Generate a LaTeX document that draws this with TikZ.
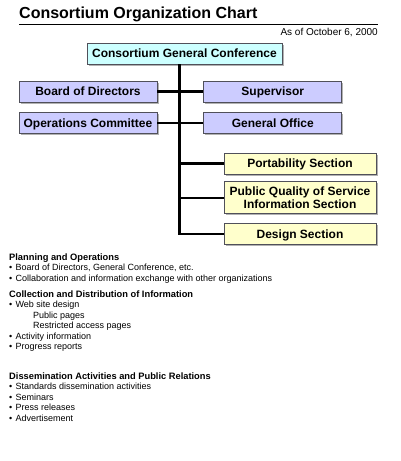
\documentclass[tikz,border=0pt]{standalone}
\usepackage{fontspec}
\setmainfont{Liberation Sans}
\usepackage{tikz}
\usetikzlibrary{positioning, shadows}
\definecolor{confcyan}{RGB}{204,255,255}
\definecolor{boardlav}{RGB}{204,204,255}
\definecolor{sectyellow}{RGB}{255,255,204}
\definecolor{edgegray}{RGB}{80,80,90}
\tikzset{
  unit/.style={rectangle, draw=edgegray, line width=0.8pt, inner sep=0pt,
               minimum height=21pt, align=center,
               text height=8.6pt, text depth=0pt,
               font=\bfseries\fontsize{12}{13.3}\selectfont,
               drop shadow={shadow xshift=1.6pt, shadow yshift=-1.6pt,
                            fill=black!30, opacity=1}},
  confbox/.style={unit, fill=confcyan, minimum width=195pt},
  boardbox/.style={unit, fill=boardlav, minimum width=138pt},
  sectbox/.style={unit, fill=sectyellow, minimum width=152pt},
  link/.style={line width=2.2pt, color=black},
  notes/.style={anchor=base west, inner sep=0pt, align=left,
                font=\fontsize{9}{10.4}\selectfont},
}
\newcommand{\notehead}[1]{{\bfseries\fontsize{9.3}{10.4}\selectfont #1}}
\newcommand{\notebul}{\textbullet\hspace{3.2pt}}

\begin{document}
\begin{tikzpicture}[x=1pt, y=-1pt]
  \useasboundingbox (0,0) rectangle (401,461);

  % ── Heading ──────────────────────────────────────────────────────────
  \node[anchor=base west, inner sep=0pt, font=\bfseries\fontsize{16}{18}\selectfont]
    (title) at (19,18) {Consortium Organization Chart};
  \coordinate (ruleL) at (19,24);
  \coordinate (ruleR) at (378,24);
  \draw[line width=0.9pt] (ruleL) -- (ruleR);
  \node[anchor=base east, inner sep=0pt, font=\fontsize{10}{12}\selectfont]
    (date) at (378,35.5) {As of October 6, 2000};

  % ── Conference and boards ────────────────────────────────────────────
  \node[confbox] (conf) at (184.5,53.5) {Consortium General Conference};

  \node[boardbox] (board) at (88,91.5) {Board of Directors};
  \node[boardbox, right=46pt of board] (superv) {Supervisor};
  \node[boardbox, below=10pt of board] (ops) {Operations Committee};
  \node[boardbox, right=46pt of ops] (office) {General Office};

  % ── Sections ─────────────────────────────────────────────────────────
  \node[sectbox] (port) at (300,163.5) {Portability Section};
  \node[sectbox, minimum height=32pt, text height=21.9pt, below=7pt of port] (qos)
    {Public Quality of Service\\Information Section};
  \node[sectbox, below=9pt of qos] (design) {Design Section};

  % ── Connectors ───────────────────────────────────────────────────────
  \coordinate (trunk) at (179.5,64);
  \draw[link] (trunk) |- (design.west);
  \draw[link] (board.east) -- (superv.west);
  \draw[link] (ops.east) -- (office.west);
  \draw[link] (trunk |- port.west) -- (port.west);
  \draw[link] (trunk |- qos.west) -- (qos.west);

  % ── Notes (base = last line) ─────────────────────────────────────────
  \node[notes] (planning) at (9,281)
    {\notehead{Planning and Operations}\\
     \notebul Board of Directors, General Conference, etc.\\
     \notebul Collaboration and information exchange with other organizations};

  \node[notes] (collect) at (9,349.5)
    {\notehead{Collection and Distribution of Information}\\
     \notebul Web site design\\
     \hspace*{24pt}Public pages\\
     \hspace*{24pt}Restricted access pages\\
     \notebul Activity information\\
     \notebul Progress reports};

  \node[notes] (dissem) at (9,421)
    {\notehead{Dissemination Activities and Public Relations}\\
     \notebul Standards dissemination activities\\
     \notebul Seminars\\
     \notebul Press releases\\
     \notebul Advertisement};

\end{tikzpicture}
\end{document}
